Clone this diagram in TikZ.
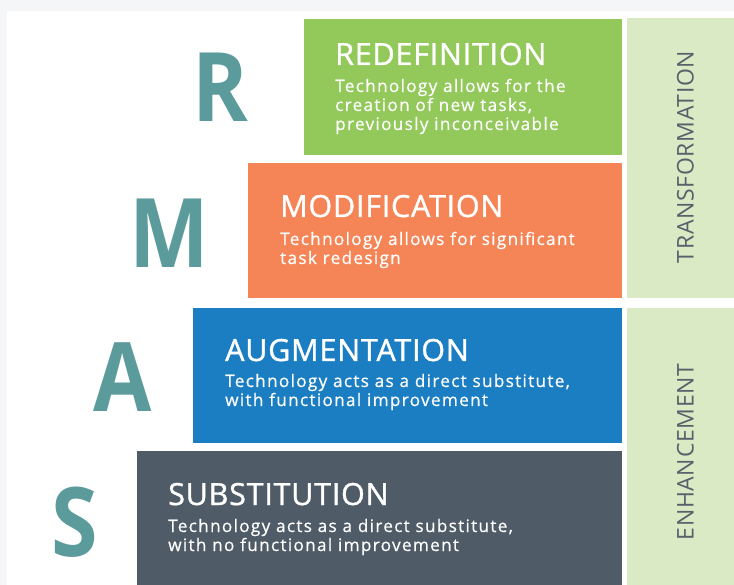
\documentclass[tikz,border=0pt]{standalone}
\usepackage{fontspec}
\setmainfont{Open Sans}
\newfontfamily\titlefont[LetterSpace=2.5,FakeBold=1.2]{Open Sans}
\newfontfamily\bodyfont[LetterSpace=7.5,FakeBold=0.6]{Open Sans}
\newfontfamily\bandfont[LetterSpace=3]{Open Sans}
\newfontfamily\letterfont[FakeStretch=0.88]{Open Sans}
\definecolor{outerbg}{HTML}{F5F6F8}
\definecolor{rgreen}{HTML}{93C85A}
\definecolor{morange}{HTML}{F58557}
\definecolor{ablue}{HTML}{1C7EC2}
\definecolor{sslate}{HTML}{4F5B66}
\definecolor{band}{HTML}{D9EAC4}
\definecolor{teal}{HTML}{5B9B9C}
\definecolor{bandtext}{HTML}{56616B}
\tikzset{
  title/.style={text=white, font=\titlefont\fontsize{30.5}{34}\selectfont, inner sep=0pt, anchor=base west},
  body/.style={text=white, font=\bodyfont\fontsize{17.2}{19}\selectfont, inner sep=0pt, anchor=base west},
  letter/.style={text=teal, font=\letterfont\fontsize{96}{100}\selectfont\bfseries, inner sep=0pt, anchor=base},
  bandlabel/.style={text=bandtext, font=\bandfont\fontsize{23}{26}\selectfont, inner sep=0pt, rotate=90, anchor=center}
}
\begin{document}
\begin{tikzpicture}[x=1pt,y=-1pt]
\useasboundingbox (0,0) rectangle (734,585);
\fill[outerbg] (0,0) rectangle (734,585);
\fill[white] (7,11) rectangle (734,585);
% tiers
\fill[rgreen]  (304,19)  rectangle (622,155);
\fill[morange] (248,163) rectangle (622,298);
\fill[ablue]   (193,308) rectangle (622,443);
\fill[sslate]  (137,451) rectangle (622,585);
% bands
\fill[band] (627,18)  rectangle (734,298);
\fill[band] (627,308) rectangle (734,585);
% titles
\node[title] (tR) at (335,65)  {REDEFINITION};
\node[title] (tM) at (280,217) {MODIFICATION};
\node[title] (tA) at (225,361) {AUGMENTATION};
\node[title] (tS) at (168,505) {SUBSTITUTION};
% bodies
\node[body] (bR1) at (335,92)  {Technology allows for the};
\node[body] (bR2) at (335,111) {creation of new tasks,};
\node[body] (bR3) at (335,130) {previously inconceivable};
\node[body] (bM1) at (280,245) {Technology allows for significant};
\node[body] (bM2) at (280,264) {task redesign};
\node[body] (bA1) at (225,387) {Technology acts as a direct substitute,};
\node[body] (bA2) at (225,406) {with functional improvement};
\node[body] (bS1) at (168,532) {Technology acts as a direct substitute,};
\node[body] (bS2) at (168,551) {with no functional improvement};
% letters
\node[letter] (lR) at (220,122) {R};
\node[letter] (lM) at (169,268) {M};
\node[letter] (lA) at (123,412) {A};
\node[letter] (lS) at (75,556)  {S};
% band labels
\node[bandlabel] (trans) at (685.5,157) {TRANSFORMATION};
\node[bandlabel] (enh)   at (685.5,452) {ENHANCEMENT};
\end{tikzpicture}
\end{document}
